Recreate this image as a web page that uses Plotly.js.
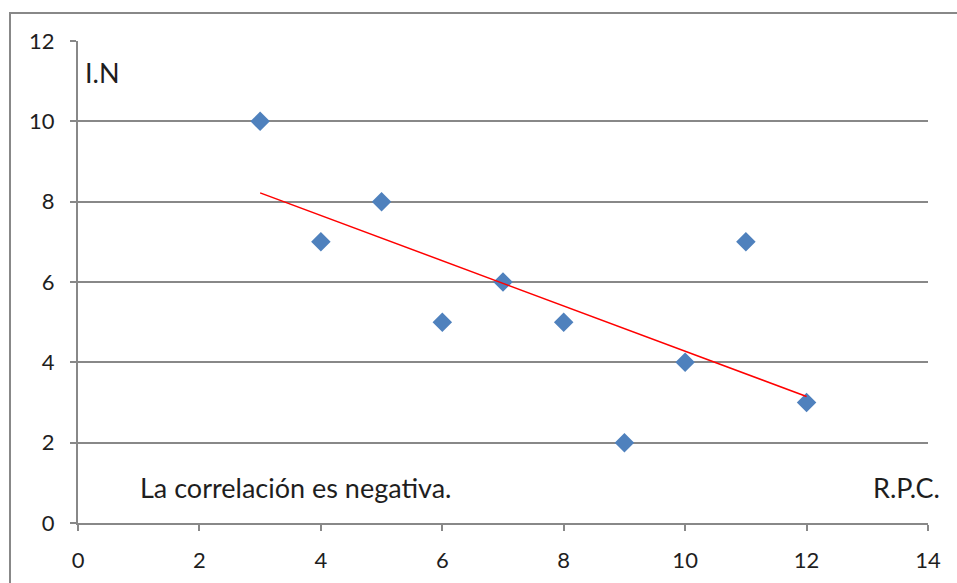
<!DOCTYPE html>
<html>
<head>
<meta charset="utf-8">
<script src="https://cdn.plot.ly/plotly-3.0.1.min.js"></script>
<style>html,body{margin:0;padding:0;background:#fff;}#chart{width:957px;height:583px;}</style>
</head>
<body>
<div id="chart"></div>
<script>
// Data
const rpc = [3, 4, 5, 6, 7, 8, 9, 10, 11, 12];
const indice = [10, 7, 8, 5, 6, 5, 2, 4, 7, 3];
// Trend line endpoints
const trendX = [3, 12];
const trendY = [8.22, 3.15];
const xTicks = [0, 2, 4, 6, 8, 10, 12, 14];
const yTicks = [0, 2, 4, 6, 8, 10, 12];

const gridCol = '#888888';
const textCol = '#1e1e1e';
const fontFam = 'Lato, "Open Sans", sans-serif';

const traces = [
  {x: rpc, y: indice, type: 'scatter', mode: 'markers',
   marker: {symbol: 'diamond', size: 15, color: '#4F81BD'}, showlegend: false, hoverinfo: 'x+y'},
  {x: trendX, y: trendY, type: 'scatter', mode: 'lines',
   line: {color: '#FF0000', width: 1.5}, showlegend: false}
];

const layout = {
  width: 957, height: 583,
  margin: {l: 78, r: 29, t: 41, b: 60},
  paper_bgcolor: '#ffffff', plot_bgcolor: '#ffffff',
  font: {family: fontFam, size: 22, color: textCol},
  xaxis: {range: [0, 14], tickvals: xTicks, ticktext: xTicks.map(String),
    showgrid: false, zeroline: false, showline: true, linecolor: gridCol, linewidth: 2,
    ticks: 'outside', ticklen: 6, tickcolor: gridCol, tickwidth: 2, ticklabelstandoff: 11,
    tickfont: {family: fontFam, size: 22, color: textCol}, fixedrange: true},
  yaxis: {range: [0, 12], tickvals: yTicks, ticktext: yTicks.map(String),
    showgrid: true, gridcolor: gridCol, gridwidth: 2, zeroline: false,
    showline: true, linecolor: gridCol, linewidth: 2,
    ticks: 'outside', ticklen: 6, tickcolor: gridCol, tickwidth: 2, ticklabelstandoff: 11,
    tickfont: {family: fontFam, size: 22, color: textCol}, fixedrange: true},
  shapes: [
    {type: 'rect', xref: 'paper', yref: 'paper',
     x0: (10 - 78) / 850, x1: 1.2, y0: -0.3, y1: (523 - 13) / 482,
     line: {color: gridCol, width: 2}, fillcolor: 'rgba(0,0,0,0)', layer: 'below'}
  ],
  annotations: [
    {text: 'I.N', xref: 'paper', yref: 'paper', x: (83 - 78) / 850, y: (523 - 72) / 482,
     xanchor: 'left', yanchor: 'middle', showarrow: false, font: {size: 27, color: textCol, family: fontFam}},
    {text: 'La correlación es negativa.', xref: 'paper', yref: 'paper', x: (138 - 78) / 850, y: (523 - 487) / 482,
     xanchor: 'left', yanchor: 'middle', showarrow: false, font: {size: 27, color: textCol, family: fontFam}},
    {text: 'R.P.C.', xref: 'paper', yref: 'paper', x: (942 - 78) / 850, y: (523 - 487) / 482,
     xanchor: 'right', yanchor: 'middle', showarrow: false, font: {size: 27, color: textCol, family: fontFam}}
  ]
};

Plotly.newPlot('chart', traces, layout, {displayModeBar: false, staticPlot: true});
</script>
</body>
</html>
